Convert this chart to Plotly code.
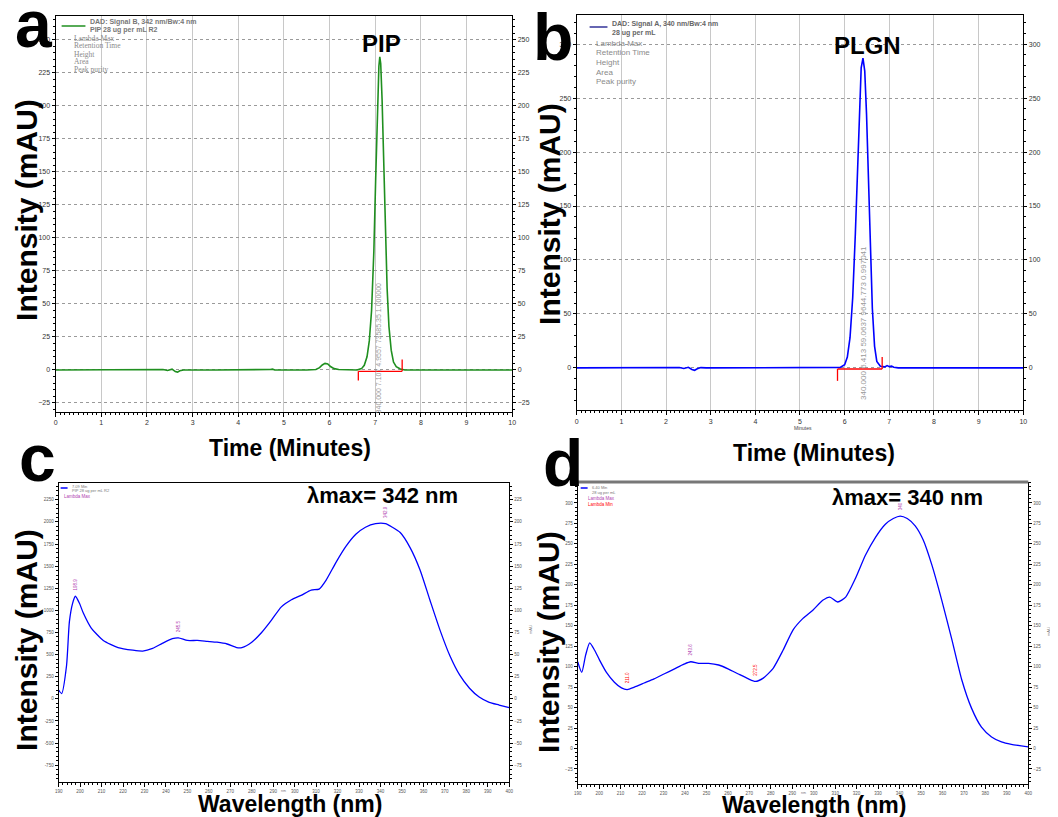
import plotly.graph_objects as go

W, H = 1058, 817
OFF = 8  # page body margin of the browser

# ---------------- data ----------------
# panel a: PIP chromatogram (time min, mAU)
a_time = [0, 1.0, 2.0, 2.35, 2.45, 2.55, 2.62, 2.67, 2.72, 2.8, 3.5, 4.6, 4.7, 4.75, 4.8, 5.5, 5.7, 5.78, 5.84, 5.9, 5.96, 6.02, 6.1, 6.2, 6.4,
          6.6, 6.7, 6.76, 6.82, 6.87, 6.92, 6.97, 7.01, 7.05, 7.08, 7.1, 7.12, 7.15, 7.18, 7.22, 7.26, 7.3, 7.35, 7.4, 7.46, 7.55, 7.65, 8.0, 9.0, 10.0]
a_int = [0, 0, 0, 0.3, -0.4, 0.6, -1.2, -1.6, -0.6, 0, 0, 0, 0.4, 0.6, 0, 0, 0.4, 1.8, 3.8, 5.0, 4.6, 2.6, 1.0, 0.3, 0,
         0, 1.0, 3.5, 10, 22, 45, 90, 145, 200, 230, 237, 232, 205, 160, 105, 62, 33, 15, 6, 2.5, 0.8, 0, 0, 0, 0]
a_base_t = [6.63, 7.59]
a_base_v = [-1.0, -1.0]

# panel b: PLGN chromatogram
b_time = [0, 1.0, 2.0, 2.3, 2.4, 2.5, 2.58, 2.64, 2.7, 2.78, 2.9, 4.0, 5.0, 5.6, 5.9, 6.0, 6.06, 6.12, 6.18, 6.24, 6.29, 6.33, 6.37, 6.41, 6.45,
          6.49, 6.53, 6.57, 6.62, 6.67, 6.72, 6.8, 6.9, 6.95, 7.0, 7.05, 7.1, 7.2, 8.0, 9.0, 10.0]
b_int = [0, 0, 0, 0.4, -0.5, 0.6, -1.5, -2.2, -0.8, 0.3, 0, 0, 0, 0, 0.5, 3, 10, 28, 65, 125, 190, 245, 278, 287, 275,
         235, 175, 110, 55, 20, 6, 1.5, 1.0, 2.2, 1.2, 1.6, 0.6, 0, 0, 0, 0]
b_base_t = [5.84, 6.84]
b_base_v = [-1.0, -1.0]

# panel c: PIP UV spectrum (nm, mAU)
c_wl = [190, 191.4, 193.7, 195.0, 196.5, 197.8, 199.7, 201.5, 205.2, 210.8, 217.7, 224.6, 229.2, 233.8, 238.5, 243.0, 245.8,
        250.0, 254.6, 259.2, 263.8, 268.5, 273.0, 275.4, 280.0, 284.6, 289.2, 293.8, 298.5, 303.0, 307.7, 311.4, 314.6,
        319.2, 323.8, 328.5, 333.0, 337.7, 342.3, 345.5, 349.2, 353.8, 358.4, 363.0, 367.7, 372.3, 376.9, 381.5, 386.0,
        390.7, 395.3, 400.0]
c_int = [10, 6, 38, 87, 108, 116, 108, 97, 80, 66, 58, 55, 54, 57, 63, 68, 69,
         66, 66, 65, 64, 62, 58, 58, 64, 75, 89, 104, 112, 117, 123, 124, 134,
         154, 172, 186, 194, 198, 198, 194, 188, 171, 146, 112, 78, 49, 27, 12, 2,
         -4, -7, -10]

# panel d: PLGN UV spectrum
d_wl = [190, 191.9, 193.7, 195.6, 197.9, 200.2, 203.4, 207.1, 210.4, 213.1, 216.4, 221.0, 225.6, 230.2, 234.9, 239.5, 242.7,
        246.4, 251.0, 255.7, 260.3, 264.9, 269.6, 272.8, 276.5, 281.1, 285.7, 290.4, 295.0, 299.6, 304.2, 307.5, 311.2,
        314.9, 319.5, 324.1, 328.8, 333.4, 337.1, 340.3, 343.6, 347.3, 351.0, 355.1, 359.7, 364.4, 369.0, 373.6, 378.2,
        382.9, 387.5, 392.1, 400.0]
d_int = [106, 93, 114, 129, 120, 108, 93, 81, 74, 72, 75, 80, 85, 91, 97, 103, 106,
         104, 104, 102, 97, 91, 85, 82, 86, 98, 120, 145, 159, 169, 181, 185, 179,
         185, 208, 236, 258, 274, 281, 284, 281, 272, 255, 224, 181, 133, 84, 49, 26,
         14, 8, 5, 2]

# tick labels
a_yticks = [-25, 0, 25, 50, 75, 100, 125, 150, 175, 200, 225, 250]
b_yticks = [0, 50, 100, 150, 200, 250, 300]
time_ticks = list(range(0, 11))
wl_ticks = list(range(190, 401, 10))
c_yticks = [-75, -50, -25, 0, 25, 50, 75, 100, 125, 150, 175, 200, 225]
d_yticks = [-25, 0, 25, 50, 75, 100, 125, 150, 175, 200, 225, 250, 275, 300]

# ---------------- figure ----------------
def px_x(p):
    return (p - OFF) / W

def px_y(p):
    return 1 - (p - OFF) / H

fig = go.Figure()

GREEN = "#1f8f1f"
BLUE = "#0000ff"
RED = "#ff0000"

fig.add_trace(go.Scatter(x=a_time, y=a_int, mode="lines", line=dict(color=GREEN, width=1.6), xaxis="x", yaxis="y"))
fig.add_trace(go.Scatter(x=a_base_t, y=a_base_v, mode="lines", line=dict(color=RED, width=1.3), xaxis="x", yaxis="y"))
fig.add_trace(go.Scatter(x=[a_base_t[0], a_base_t[0]], y=[a_base_v[0], -8], mode="lines", line=dict(color=RED, width=1.3), xaxis="x", yaxis="y"))
fig.add_trace(go.Scatter(x=[a_base_t[1], a_base_t[1]], y=[a_base_v[1], 8], mode="lines", line=dict(color=RED, width=1.3), xaxis="x", yaxis="y"))

fig.add_trace(go.Scatter(x=b_time, y=b_int, mode="lines", line=dict(color=BLUE, width=1.6), xaxis="x2", yaxis="y2"))
fig.add_trace(go.Scatter(x=b_base_t, y=b_base_v, mode="lines", line=dict(color=RED, width=1.3), xaxis="x2", yaxis="y2"))
fig.add_trace(go.Scatter(x=[b_base_t[0], b_base_t[0]], y=[b_base_v[0], -12], mode="lines", line=dict(color=RED, width=1.3), xaxis="x2", yaxis="y2"))
fig.add_trace(go.Scatter(x=[b_base_t[1], b_base_t[1]], y=[b_base_v[1], 10], mode="lines", line=dict(color=RED, width=1.3), xaxis="x2", yaxis="y2"))

fig.add_trace(go.Scatter(x=c_wl, y=c_int, mode="lines", line=dict(color=BLUE, width=1.3, shape="spline", smoothing=0.6), xaxis="x3", yaxis="y3"))
fig.add_trace(go.Scatter(x=d_wl, y=d_int, mode="lines", line=dict(color=BLUE, width=1.3, shape="spline", smoothing=0.6), xaxis="x4", yaxis="y4"))

# invisible traces so the right-hand axes are drawn
for xa, ya, xv, yv in [("x", "y5", 0, 0), ("x2", "y6", 0, 0), ("x3", "y7", 190, 0), ("x4", "y8", 190, 0)]:
    fig.add_trace(go.Scatter(x=[xv], y=[yv], mode="markers", marker=dict(opacity=0), xaxis=xa, yaxis=ya, hoverinfo="skip"))

tickfont_ab = dict(family="Arial", size=7, color="#333333")
tickfont_cd = dict(family="Arial", size=4.5, color="#555555")

def xaxis_common(domain, rng, ticks, tf, grid, minor_dt, anchor, mirror=True):
    return dict(domain=domain, range=rng, tickvals=ticks, tickfont=tf, showline=True, linecolor="black", linewidth=1.2,
                mirror=mirror, ticks="outside", ticklen=4, tickcolor="black", showgrid=grid, gridcolor="#c8c8c8", gridwidth=1,
                zeroline=False, anchor=anchor, minor=dict(dtick=minor_dt, ticks="outside", ticklen=2, tickcolor="black"))

def yaxis_common(domain, rng, ticks, tf, grid, minor_dt, anchor, side="left", overlay=None, ticktext=None):
    d = dict(domain=domain, range=rng, tickvals=ticks, tickfont=tf, showline=True, linecolor="black", linewidth=1.2,
             ticks="outside", ticklen=3, tickcolor="black", showgrid=grid, gridcolor="#9a9a9a", griddash="dot", gridwidth=1,
             zeroline=False, anchor=anchor, side=side, minor=dict(dtick=minor_dt, ticks="outside", ticklen=2, tickcolor="black"))
    if overlay:
        d["overlaying"] = overlay
        d["showgrid"] = False
    if ticktext is not None:
        d["ticktext"] = ticktext
    return d

dom_a_x = [px_x(52), px_x(512)]
dom_a_y = [px_y(411.7), px_y(16)]
dom_b_x = [px_x(577), px_x(1027)]
dom_b_y = [px_y(410), px_y(15)]
dom_c_x = [px_x(55), px_x(509)]
dom_c_y = [px_y(782), px_y(483)]
dom_d_x = [px_x(578), px_x(1032)]
dom_d_y = [px_y(784), px_y(482)]

rng_a = [-31.6, 268]
rng_b = [-39, 327]
rng_c = [-94, 244]
rng_d = [-43.4, 325.6]

fig.update_layout(
    xaxis=xaxis_common(dom_a_x, [0, 10], time_ticks, tickfont_ab, True, 0.1, "y"),
    yaxis=yaxis_common(dom_a_y, rng_a, a_yticks, tickfont_ab, True, 5, "x"),
    yaxis5=yaxis_common(dom_a_y, rng_a, a_yticks, tickfont_ab, False, 5, "x", side="right", overlay="y"),
    xaxis2=xaxis_common(dom_b_x, [0, 10], time_ticks, tickfont_ab, True, 0.1, "y2"),
    yaxis2=yaxis_common(dom_b_y, rng_b, b_yticks, tickfont_ab, True, 10, "x2"),
    yaxis6=yaxis_common(dom_b_y, rng_b, b_yticks, tickfont_ab, False, 10, "x2", side="right", overlay="y2"),
    xaxis3=xaxis_common(dom_c_x, [190, 400], wl_ticks, tickfont_cd, False, 2, "y3"),
    yaxis3=yaxis_common(dom_c_y, rng_c, c_yticks, tickfont_cd, False, 5, "x3", ticktext=[str(v * 10) for v in c_yticks]),
    yaxis7=yaxis_common(dom_c_y, rng_c, c_yticks, tickfont_cd, False, 5, "x3", side="right", overlay="y3"),
    xaxis4=xaxis_common(dom_d_x, [190, 400], wl_ticks, tickfont_cd, False, 2, "y4", mirror=False),
    yaxis4=yaxis_common(dom_d_y, rng_d, d_yticks, tickfont_cd, False, 5, "x4"),
    yaxis8=yaxis_common(dom_d_y, rng_d, d_yticks, tickfont_cd, False, 5, "x4", side="right", overlay="y4"),
)

ann = []

def text(x, y, s, size, color="black", bold=False, angle=0, family="Arial", xanchor="center", yanchor="middle"):
    ann.append(dict(x=px_x(x), y=px_y(y), xref="paper", yref="paper", text=("<b>%s</b>" % s) if bold else s,
                    showarrow=False, font=dict(family=family, size=size, color=color), textangle=angle,
                    xanchor=xanchor, yanchor=yanchor))

# panel letters
text(30, 24, "a", 66, bold=True)
text(553, 37, "b", 66, bold=True)
text(34, 458, "c", 66, bold=True)
text(563, 463, "d", 66, bold=True)

# axis titles
for (x, y) in [(22, 210), (549, 214), (22, 640), (548, 642)]:
    text(x, y, "Intensity (mAU)", 30, bold=True, angle=-90)
text(288, 448, "Time (Minutes)", 23, bold=True)
text(816, 453, "Time (Minutes)", 23, bold=True)
text(288, 804, "Wavelength (nm)", 23, bold=True)
text(816, 805, "Wavelength (nm)", 23, bold=True)

# compound labels
text(380, 43, "PIP", 24, bold=True)
text(870, 45, "PLGN", 24, bold=True)
text(381, 495, "λmax= 342 nm", 22, bold=True)
text(910, 497, "λmax= 340 nm", 22, bold=True)

# panel a legend
text(85, 22, "DAD: Signal B, 342 nm/Bw:4 nm", 7, color="#777777", bold=True, xanchor="left")
text(85, 30, "PIP 28 ug per mL R2", 7, color="#777777", bold=True, xanchor="left")
for i, s in enumerate(["Lambda Max", "Retention Time", "Height", "Area", "Peak purity"]):
    text(68, 38 + 8 * i, s, 7.5, color="#8a8a8a", family="Liberation Serif", xanchor="left")

# panel b legend
text(611, 24, "DAD: Signal A, 340 nm/Bw:4 nm", 7, color="#666666", bold=True, xanchor="left")
text(611, 33, "28 ug per mL", 7, color="#666666", bold=True, xanchor="left")
for i, s in enumerate(["Lambda Max", "Retention Time", "Height", "Area", "Peak purity"]):
    text(594, 43 + 9.7 * i, s, 8, color="#8a8a8a", xanchor="left")
text(805, 428, "Minutes", 5, color="#444444")

# integration annotations (rotated)
ann.append(dict(x=7.08, y=17, xref="x", yref="y", text="340.000 7.107 4.9557 73585.35 1.000000", showarrow=False,
                textangle=-90, font=dict(family="Arial", size=7, color="#9a9a9a")))
ann.append(dict(x=6.42, y=42, xref="x2", yref="y2", text="340.000 6.413 59.0637 9644.773 0.997041", showarrow=False,
                textangle=-90, font=dict(family="Arial", size=8, color="#9a9a9a")))

# spectrum peak labels
PURPLE = "#b040b0"
def peak_label(x, y, s, xa, ya, color):
    ann.append(dict(x=x, y=y, xref=xa, yref=ya, text=s, showarrow=False, textangle=-90, yanchor="bottom",
                    yshift=4, font=dict(size=4.5, color=color)))

peak_label(197.8, 116, "198.9", "x3", "y3", PURPLE)
peak_label(245.8, 69, "245.5", "x3", "y3", PURPLE)
peak_label(342.3, 198, "342.9", "x3", "y3", PURPLE)
peak_label(242.7, 106, "243.6", "x4", "y4", PURPLE)
peak_label(340.3, 284, "340", "x4", "y4", PURPLE)
peak_label(213.1, 72, "211.0", "x4", "y4", RED)
peak_label(272.8, 82, "272.5", "x4", "y4", RED)

# spectrum legends
text(66, 486, "7.09 Min", 4, color="#777777", xanchor="left")
text(66, 491, "PIP 28 ug per mL R2", 4, color="#777777", xanchor="left")
text(58, 496, "Lambda Max", 4.5, color=PURPLE, xanchor="left")
text(590, 487, "6.40 Min", 4, color="#777777", xanchor="left")
text(590, 492, "28 ug per mL", 4, color="#777777", xanchor="left")
text(586, 498, "Lambda Max", 4.5, color=PURPLE, xanchor="left")
text(586, 504, "Lambda Min", 4.5, color=RED, xanchor="left")
text(530, 630, "mAU", 4, color="#777777", angle=-90)
text(1052, 632, "mAU", 4, color="#777777", angle=-90)
text(282, 791, "nm", 3.5, color="#777777")
text(806, 793, "nm", 3.5, color="#777777")

shapes = [
    dict(type="line", xref="paper", yref="paper", x0=px_x(58), x1=px_x(82), y0=px_y(26), y1=px_y(26), line=dict(color=GREEN, width=1.5)),
    dict(type="line", xref="paper", yref="paper", x0=px_x(590), x1=px_x(608), y0=px_y(27), y1=px_y(27), line=dict(color="#333399", width=1.5)),
    dict(type="line", xref="paper", yref="paper", x0=px_x(57), x1=px_x(64), y0=px_y(488), y1=px_y(488), line=dict(color=BLUE, width=1.5)),
    dict(type="line", xref="paper", yref="paper", x0=px_x(581), x1=px_x(588), y0=px_y(488), y1=px_y(488), line=dict(color=BLUE, width=1.5)),
    # grey top frame of panel d
    dict(type="line", xref="paper", yref="paper", x0=dom_d_x[0], x1=dom_d_x[1], y0=dom_d_y[1], y1=dom_d_y[1], line=dict(color="#777777", width=3)),
]

fig.update_layout(width=W, height=H, margin=dict(l=0, r=0, t=0, b=0), paper_bgcolor="white", plot_bgcolor="white",
                  showlegend=False, annotations=ann, shapes=shapes, font=dict(family="Arial"))

fig.write_html("out.html")
